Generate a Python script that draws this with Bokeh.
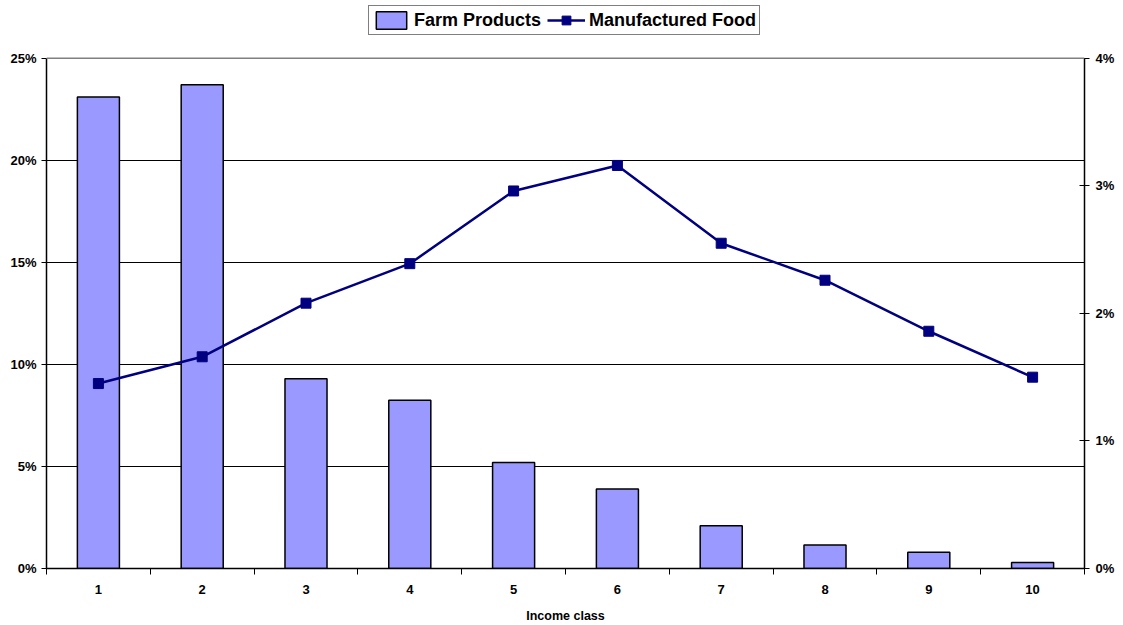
from bokeh.plotting import figure
from bokeh.models import (Range1d, LinearAxis, FixedTicker, NumeralTickFormatter,
                          Legend, LegendItem, Span)
from bokeh.embed import file_html
from bokeh.resources import INLINE

# Income classes and the two shares
income_class = [1, 2, 3, 4, 5, 6, 7, 8, 9, 10]
farm_products = [0.231, 0.237, 0.093, 0.0825, 0.052, 0.039, 0.021, 0.0115, 0.008, 0.003]
manufactured_food = [0.0145, 0.0166, 0.0208, 0.0239, 0.0296, 0.0316, 0.0255, 0.0226, 0.0186, 0.0150]

left_ticks = [0, 0.05, 0.10, 0.15, 0.20, 0.25]
right_ticks = [0, 0.01, 0.02, 0.03, 0.04]
left_max, right_max = 0.25, 0.04

FONT = "Liberation Sans"

# The frame runs up to the top of the page so the legend can sit inside it;
# the value scales are stretched so that the plotted area keeps its height.
W, H = 1123, 625
border_top, border_bottom = 2, 55
frame_h = H - border_top - border_bottom
plot_h = 512
stretch = frame_h / plot_h

p = figure(width=W, height=H, output_backend="svg", toolbar_location=None,
           x_range=Range1d(0.5, 10.5), y_range=Range1d(0, left_max * stretch),
           min_border_left=46, min_border_right=39, min_border_top=border_top,
           min_border_bottom=border_bottom)
p.extra_y_ranges = {"right": Range1d(0, right_max * stretch)}

p.background_fill_color = "white"
p.border_fill_color = "white"
p.outline_line_color = None

# top edge of the plotting area
p.add_layout(Span(location=left_max, dimension="width", line_color="#808080",
                  line_width=1.5))

bars = p.vbar(x=income_class, top=farm_products, width=0.405, bottom=0,
              fill_color="#9999FF", line_color="black", line_width=1.5)
line = p.line(x=income_class, y=manufactured_food, y_range_name="right",
              line_color="#000080", line_width=2.5)
marks = p.scatter(x=income_class, y=manufactured_food, y_range_name="right",
                  marker="square", size=10, fill_color="#000080", line_color="#000080")

# x axis: labels at class centres, tick marks between classes
xa = p.xaxis[0]
xa.ticker = FixedTicker(ticks=income_class,
                        minor_ticks=[i + 0.5 for i in range(0, 11)])
xa.major_tick_line_color = None
xa.minor_tick_line_color = "black"
xa.minor_tick_out = 6
xa.minor_tick_in = 0
xa.axis_line_color = "black"
xa.axis_line_width = 1.5
xa.major_label_text_font = FONT
xa.major_label_text_font_style = "bold"
xa.major_label_text_font_size = "13px"
xa.major_label_text_color = "black"
xa.major_label_standoff = 10
xa.axis_label = "Income class"
xa.axis_label_text_font = FONT
xa.axis_label_text_font_style = "bold"
xa.axis_label_text_font_size = "12.5px"
xa.axis_label_text_color = "black"
xa.axis_label_standoff = 12

ya = p.yaxis[0]
ya.ticker = FixedTicker(ticks=left_ticks)
ya.formatter = NumeralTickFormatter(format="0%")
ya.bounds = (0, left_max)
ya.axis_line_color = "black"
ya.axis_line_width = 1.5
ya.major_tick_out = 5
ya.major_tick_in = 0
ya.minor_tick_line_color = None
ya.major_label_text_font = FONT
ya.major_label_text_font_style = "bold"
ya.major_label_text_font_size = "13px"
ya.major_label_text_color = "black"
ya.major_label_standoff = 5

ra = LinearAxis(y_range_name="right", ticker=FixedTicker(ticks=right_ticks),
                formatter=NumeralTickFormatter(format="0%"), bounds=(0, right_max))
ra.axis_line_color = "black"
ra.axis_line_width = 1.5
ra.major_tick_out = 5
ra.major_tick_in = 5
ra.minor_tick_line_color = None
ra.major_label_text_font = FONT
ra.major_label_text_font_style = "bold"
ra.major_label_text_font_size = "13px"
ra.major_label_text_color = "black"
ra.major_label_standoff = 6
p.add_layout(ra, "right")

p.xgrid.grid_line_color = None
p.ygrid.ticker = FixedTicker(ticks=left_ticks[1:-1])
p.ygrid.grid_line_color = "black"
p.ygrid.grid_line_width = 1

legend = Legend(items=[LegendItem(label="Farm Products", renderers=[bars]),
                       LegendItem(label="Manufactured Food", renderers=[line, marks])],
                orientation="horizontal", location=(322, 533))
legend.label_text_font = FONT
legend.label_text_font_style = "bold"
legend.label_text_font_size = "18px"
legend.label_text_color = "black"
legend.border_line_color = "black"
legend.border_line_width = 1.5
legend.padding = 3
legend.spacing = 6
legend.margin = 0
legend.glyph_width = 38
legend.glyph_height = 22
legend.label_standoff = 4
legend.label_height = 22
legend.background_fill_color = "white"
p.add_layout(legend, "center")

open("out.html", "w").write(file_html(p, INLINE))
